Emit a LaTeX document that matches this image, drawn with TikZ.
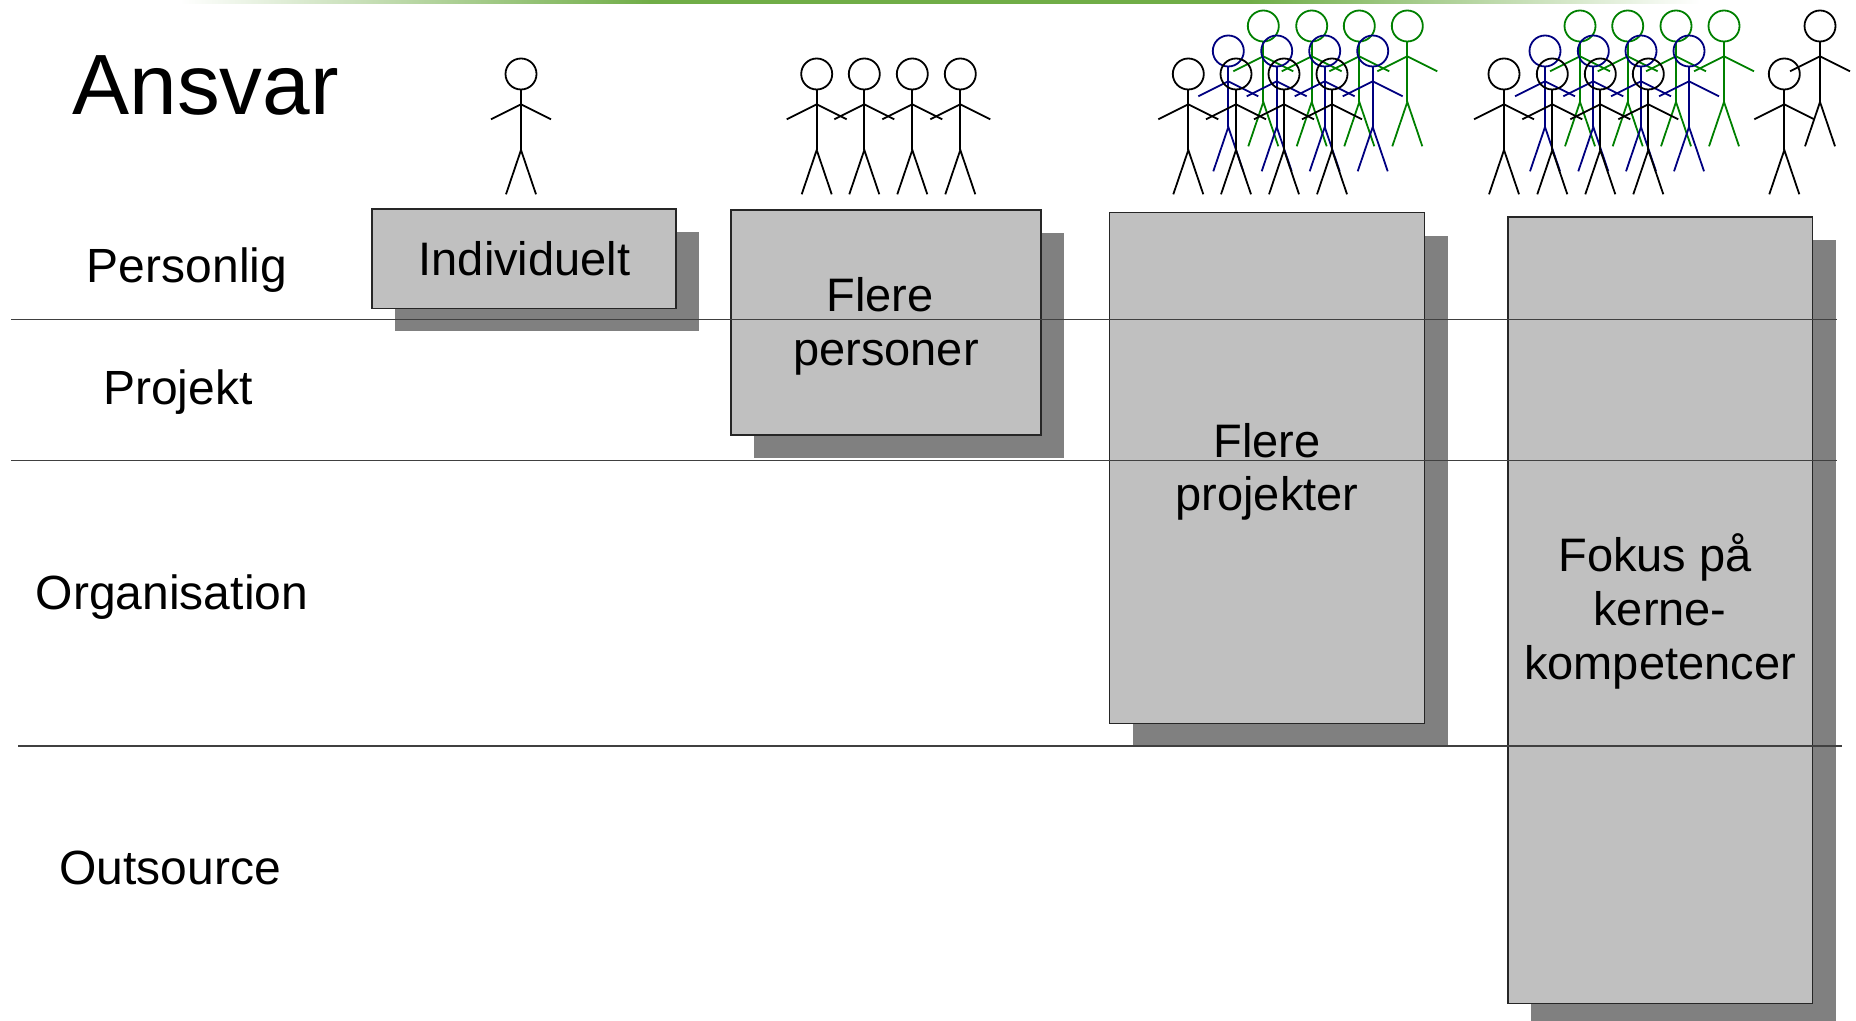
\documentclass[tikz,border=0pt]{standalone}
\usepackage{fontspec}
\setmainfont{Liberation Sans}
\pgfdeclarelayer{background}
\pgfsetlayers{background,main}
\definecolor{boxgray}{RGB}{192,192,192}
\definecolor{shadowgray}{RGB}{128,128,128}
\definecolor{bargreen}{RGB}{112,173,71}
\definecolor{figgreen}{RGB}{0,128,0}
\definecolor{figblue}{RGB}{0,0,128}
\tikzset{
  stick/.pic={
    \draw (0,-76) circle[radius=15.5];
    \draw (0,-60.5) -- (0,0);
    \draw (-30,-30.7) -- (0,-45.7) -- (30,-30.7);
    \draw (-15,44.3) -- (0,0) -- (15,44.3);
  },
  figline/.style={line width=0.9pt},
  boxnode/.style={draw=black!85, line width=0.6pt, fill=boxgray, inner sep=0pt, outer sep=0pt},
  sepline/.style={draw=black!75, line width=0.7pt},
  rowlabel/.style={anchor=base, inner sep=0pt, font=\fontsize{24}{29}\selectfont},
  boxtext/.style={anchor=base, inner sep=0pt, font=\fontsize{23.5}{28}\selectfont},
}
\begin{document}
\begin{tikzpicture}[x=0.5pt,y=-0.5pt]
\useasboundingbox (0,0) rectangle (1856,1021);
\clip (0,0) rectangle (1856,1021);

% top green bar
\shade[left color=white, right color=bargreen] (180,0) rectangle (650,4);
\fill[bargreen] (649,0) rectangle (1251,4);
\shade[left color=bargreen, right color=white] (1250,0) rectangle (1700,4);

% title
\node[anchor=base west, inner sep=0pt, font=\fontsize{42.8}{50}\selectfont] (title) at (72,115) {Ansvar};

% boxes
\node[boxnode, minimum width=152pt, minimum height=49.75pt] (b1) at (524,258.75) {};
\node[boxnode, minimum width=155pt, minimum height=112.5pt] (b2) at (886,322.5) {};
\node[boxnode, minimum width=157.5pt, minimum height=255.3pt] (b3) at (1267,468) {};
\node[boxnode, minimum width=152.25pt, minimum height=393.15pt] (b4) at (1660.25,610.15) {};

\begin{pgfonlayer}{background}
\foreach \b in {b1,b2,b3,b4}{
  \fill[shadowgray] ([shift={(23,23)}]\b.north west) rectangle ([shift={(23,23)}]\b.south east);
}
\end{pgfonlayer}

% separator lines (drawn over the boxes)
\draw[sepline] (11,319.5) -- (1837,319.5);
\draw[sepline] (11,460.5) -- (1837,460.5);
\draw[sepline] (18,746) -- (1842,746);

% row labels
\node[rowlabel] (lpers) at (187,283) {Personlig};
\node[rowlabel] (lproj) at (178,404) {Projekt};
\node[rowlabel] (lorg) at (172,609.5) {Organisation};
\node[rowlabel] (lout) at (170,884) {Outsource};

% box texts
\node[boxtext] (t1) at (524.5,276) {Individuelt};
\node[boxtext] (t2a) at (880,311.7) {Flere};
\node[boxtext] (t2b) at (886,365) {personer};
\node[boxtext] (t3a) at (1267,457.3) {Flere};
\node[boxtext] (t3b) at (1267,510.5) {projekter};
\node[boxtext] (t4a) at (1655,571.7) {Fokus på};
\node[boxtext] (t4b) at (1660,625) {kerne-};
\node[boxtext] (t4c) at (1660,679) {kompetencer};

% stick figures: single
\pic[figline, color=black] (s1) at (521,150) {stick};
% group of four
\foreach \x [count=\i] in {816.7,864.3,912.3,960.3}{
  \pic[figline, color=black] (g2\i) at (\x,150) {stick};
}
% group three: green, blue, black
\foreach \x [count=\i] in {1263.3,1311.7,1359.3,1407.3}{
  \pic[figline, color=figgreen] (g3g\i) at (\x,102) {stick};
}
\foreach \x [count=\i] in {1228.3,1276.7,1324.7,1372.7}{
  \pic[figline, color=figblue] (g3b\i) at (\x,127) {stick};
}
\foreach \x [count=\i] in {1188.3,1236,1284,1332}{
  \pic[figline, color=black] (g3k\i) at (\x,150) {stick};
}
% group four
\foreach \x [count=\i] in {1580,1627.7,1676,1724}{
  \pic[figline, color=figgreen] (g4g\i) at (\x,102) {stick};
}
\foreach \x [count=\i] in {1545,1593.3,1641,1689}{
  \pic[figline, color=figblue] (g4b\i) at (\x,127) {stick};
}
\foreach \x [count=\i] in {1504,1552.3,1600.3,1648.3}{
  \pic[figline, color=black] (g4k\i) at (\x,150) {stick};
}
\pic[figline, color=black] (e1) at (1784.3,150) {stick};
\pic[figline, color=black] (e2) at (1820,102) {stick};
\end{tikzpicture}
\end{document}
